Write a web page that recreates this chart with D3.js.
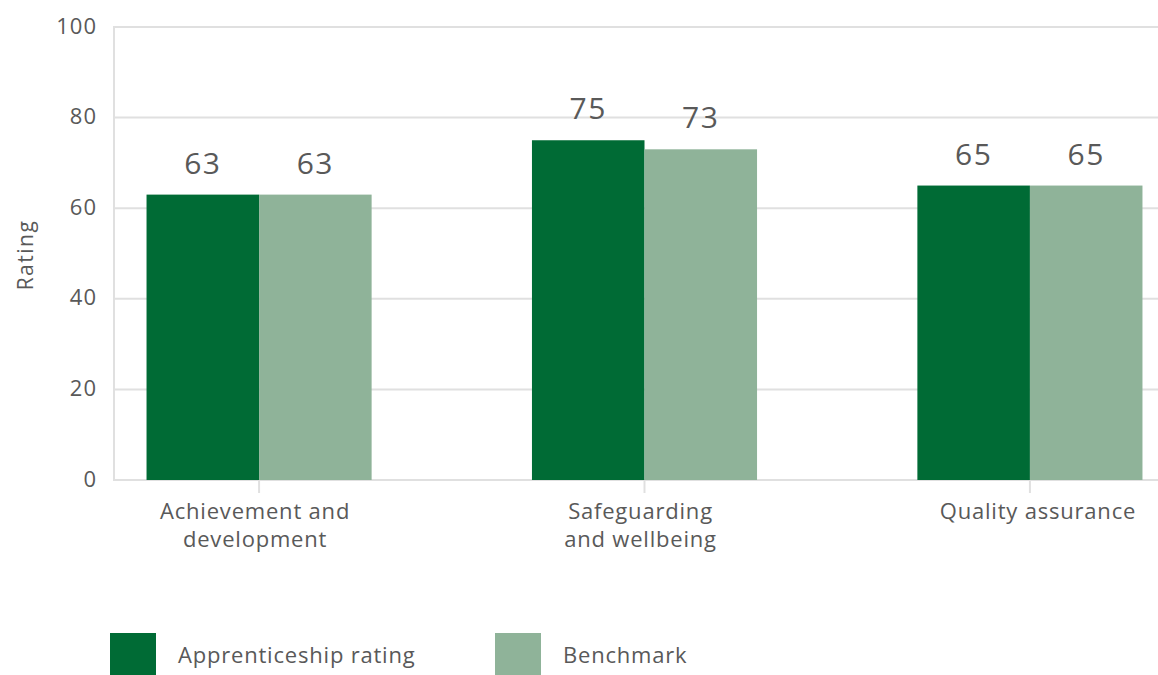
<!DOCTYPE html>
<html>
<head>
<meta charset="utf-8">
<script src="https://cdn.jsdelivr.net/npm/d3@7"></script>
<style>
  html, body { margin: 0; padding: 0; background: #fff; }
  svg { display: block; font-family: "Open Sans", "Lato", sans-serif; }
</style>
</head>
<body>
<svg id="chart" width="1158" height="675"></svg>
<script>
// Ratings per area
const categories = [["Achievement and", "development"], ["Safeguarding", "and wellbeing"], ["Quality assurance"]];
const categoryKeys = ["Achievement and development", "Safeguarding and wellbeing", "Quality assurance"];
const seriesNames = ["Apprenticeship rating", "Benchmark"];
const apprenticeshipRating = [63, 75, 65];
const benchmark = [63, 73, 65];
const yTicks = [0, 20, 40, 60, 80, 100];
const colors = ["#006B35", "#8FB399"];

const textColor = "#595959";
const gridColor = "#E0E0E0";

const svg = d3.select("#chart");
const W = 1158;

const x = d3.scaleBand()
  .domain(categoryKeys)
  .range([113, 1176])
  .paddingInner(0.416)
  .paddingOuter(0.087);

const xSub = d3.scaleBand()
  .domain(seriesNames)
  .range([0, x.bandwidth()]);

const y = d3.scaleLinear().domain([0, 100]).range([480, 27]);

// gridlines
svg.append("g")
  .selectAll("line")
  .data(yTicks)
  .join("line")
  .attr("x1", 113).attr("x2", W)
  .attr("y1", d => y(d)).attr("y2", d => y(d))
  .attr("stroke", gridColor).attr("stroke-width", 2);

// y axis line
svg.append("line")
  .attr("x1", 114).attr("x2", 114)
  .attr("y1", y(100) - 1).attr("y2", y(0) + 1)
  .attr("stroke", gridColor).attr("stroke-width", 2);

// y tick labels
svg.append("g")
  .selectAll("text")
  .data(yTicks)
  .join("text")
  .attr("x", 97)
  .attr("y", d => y(d))
  .attr("dy", "0.3em")
  .attr("text-anchor", "end")
  .attr("fill", textColor)
  .attr("font-size", 22)
  .attr("letter-spacing", 1)
  .text(d => d);

// y axis title
svg.append("text")
  .attr("transform", "translate(33,255) rotate(-90)")
  .attr("text-anchor", "middle")
  .attr("fill", textColor)
  .attr("font-size", 21)
  .attr("letter-spacing", 1.5)
  .text("Rating");

// category ticks
svg.append("g")
  .selectAll("line")
  .data(categoryKeys)
  .join("line")
  .attr("x1", d => x(d) + x.bandwidth() / 2)
  .attr("x2", d => x(d) + x.bandwidth() / 2)
  .attr("y1", y(0)).attr("y2", y(0) + 13)
  .attr("stroke", gridColor).attr("stroke-width", 2);

// category labels
const catLabels = svg.append("g")
  .selectAll("text")
  .data(categoryKeys)
  .join("text")
  .attr("y", 519)
  .attr("text-anchor", "middle")
  .attr("fill", textColor)
  .attr("font-size", 22)
  .attr("letter-spacing", 0.8);
catLabels.each(function(d, i) {
  const cx = x(d) + x.bandwidth() / 2 + (i === 2 ? 8 : -4);
  d3.select(this).selectAll("tspan")
    .data(categories[i])
    .join("tspan")
    .attr("x", cx)
    .attr("dy", (t, j) => j === 0 ? 0 : 28)
    .text(t => t);
});

// bars
const series = [apprenticeshipRating, benchmark];
const rows = categoryKeys.flatMap((c, i) => seriesNames.map((s, k) => ({ c, s, k, v: series[k][i] })));

svg.append("g")
  .selectAll("rect")
  .data(rows)
  .join("rect")
  .attr("x", d => x(d.c) + xSub(d.s))
  .attr("width", xSub.bandwidth())
  .attr("y", d => y(d.v))
  .attr("height", d => y(0) - y(d.v))
  .attr("fill", d => colors[d.k]);

// value labels
svg.append("g")
  .selectAll("text")
  .data(rows)
  .join("text")
  .attr("x", d => x(d.c) + xSub(d.s) + xSub.bandwidth() / 2)
  .attr("y", d => y(d.v) - 21)
  .attr("text-anchor", "middle")
  .attr("fill", textColor)
  .attr("font-size", 30)
  .attr("letter-spacing", 1.5)
  .text(d => d.v);

// legend
const legendX = [110, 495];
const legend = svg.append("g")
  .selectAll("g")
  .data(seriesNames)
  .join("g")
  .attr("transform", (d, i) => `translate(${legendX[i]},633)`);
legend.append("rect")
  .attr("width", 46).attr("height", 46)
  .attr("fill", (d, i) => colors[i]);
legend.append("text")
  .attr("x", 68).attr("y", 22)
  .attr("dy", "0.35em")
  .attr("fill", textColor)
  .attr("font-size", 22)
  .attr("letter-spacing", 0.8)
  .text(d => d);
</script>
</body>
</html>
